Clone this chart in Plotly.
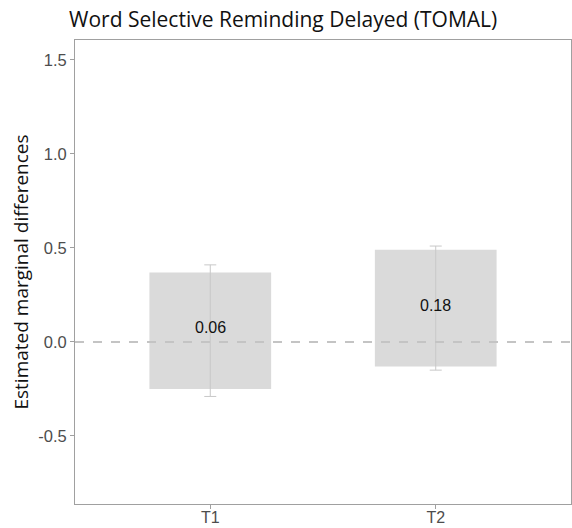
import plotly.graph_objects as go

categories = ["T1", "T2"]
estimate = [0.06, 0.18]
bar_lower = [-0.25, -0.13]
bar_upper = [0.37, 0.49]
err_lower = [-0.29, -0.15]
err_upper = [0.41, 0.51]
labels = ["0.06", "0.18"]
y_ticks = [-0.5, 0.0, 0.5, 1.0, 1.5]
y_tick_labels = ["-0.5", "0.0", "0.5", "1.0", "1.5"]

xpos = [1, 2]

fig = go.Figure()
fig.add_trace(go.Bar(
    x=xpos,
    y=[u - l for u, l in zip(bar_upper, bar_lower)],
    base=bar_lower,
    width=0.54,
    marker=dict(color="#dadada", line=dict(width=0)),
    hoverinfo="skip",
    showlegend=False,
))
fig.add_trace(go.Scatter(
    x=xpos,
    y=estimate,
    mode="markers",
    marker=dict(size=1, color="rgba(0,0,0,0)"),
    error_y=dict(
        type="data",
        symmetric=False,
        array=[u - e for u, e in zip(err_upper, estimate)],
        arrayminus=[e - l for e, l in zip(estimate, err_lower)],
        color="#c8c8c8",
        thickness=1,
        width=6,
    ),
    showlegend=False,
    hoverinfo="skip",
))
for xv, yv, lab in zip(xpos, estimate, labels):
    fig.add_annotation(x=xv, y=yv, text=lab, showarrow=False, yshift=3,
                       xanchor="center", yanchor="middle",
                       font=dict(family="Liberation Sans, Arial", size=16, color="#111111"))
fig.add_shape(type="line", xref="paper", x0=0, x1=1, yref="y", y0=0, y1=0,
              line=dict(color="#c4c4c4", width=2, dash="dash"), layer="above")

fig.update_layout(
    width=572, height=528,
    margin=dict(l=75, r=1, t=40, b=24),
    plot_bgcolor="white",
    paper_bgcolor="white",
    title=dict(text="Word Selective Reminding Delayed (TOMAL)", x=0.495, xanchor="center",
               y=0.962, yanchor="middle",
               font=dict(family="Open Sans", size=21, color="#111111")),
    xaxis=dict(
        range=[0.4, 2.6],
        tickvals=xpos, ticktext=categories,
        showgrid=False, zeroline=False, automargin=False,
        showline=True, linecolor="#a0a0a0", linewidth=1, mirror=True,
        ticks="outside", ticklen=4, tickcolor="#a0a0a0",
        ticklabelstandoff=-5,
        tickfont=dict(family="Liberation Sans, Arial", size=16, color="#4d4d4d"),
    ),
    yaxis=dict(
        range=[-0.862, 1.606],
        tickvals=y_ticks, ticktext=y_tick_labels,
        showgrid=False, zeroline=False, automargin=False,
        showline=True, linecolor="#a0a0a0", linewidth=1, mirror=True,
        ticks="outside", ticklen=4, tickcolor="#a0a0a0",
        tickfont=dict(family="Liberation Sans, Arial", size=16.5, color="#4d4d4d"),
        title=dict(text="Estimated marginal differences", standoff=4,
                   font=dict(family="Open Sans", size=19, color="#111111")),
    ),
)

fig.write_html("out.html")
